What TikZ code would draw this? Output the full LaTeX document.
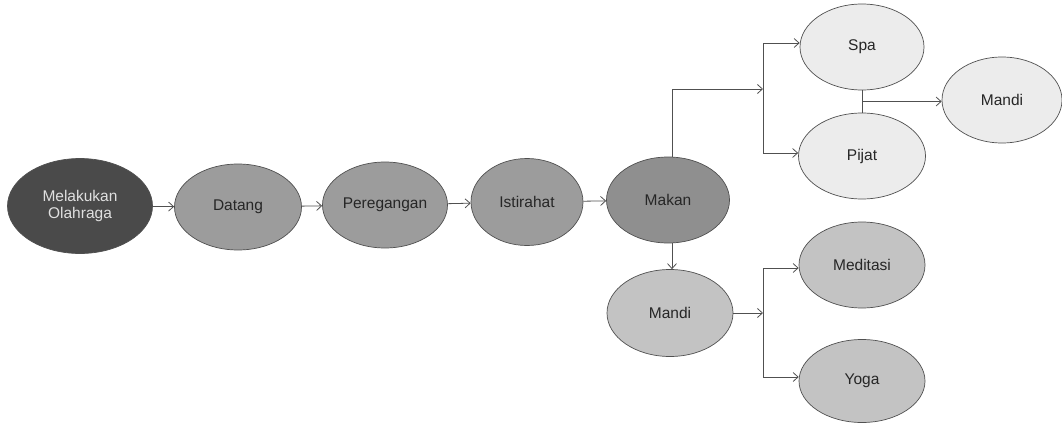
\documentclass[tikz,border=0pt]{standalone}
\usepackage{fontspec}
\setmainfont{Liberation Sans}
\usetikzlibrary{shapes.geometric,arrows.meta,calc}
\definecolor{stepdark}{HTML}{4A4A4A}
\definecolor{stepmid}{HTML}{9C9C9C}
\definecolor{stepmidd}{HTML}{8F8F8F}
\definecolor{steplight}{HTML}{C3C3C3}
\definecolor{steppale}{HTML}{ECECEC}
\definecolor{edgegray}{HTML}{505050}
\tikzset{
  oval/.style={ellipse, draw=edgegray, line width=0.7pt, inner sep=0pt,
    minimum width=124pt, minimum height=86pt, font=\fontsize{15.5}{17.5}\selectfont,
    text=black!85, align=center},
  arr/.style={draw=edgegray, line width=0.8pt, -{Straight Barb[length=5pt,width=9pt,line width=0.8pt]}},
  link/.style={draw=edgegray, line width=0.8pt},
}
\begin{document}
\begin{tikzpicture}[x=1pt,y=-1pt]
\useasboundingbox (0,0) rectangle (1062,423);
% main sequence
\node[oval, fill=stepdark, text=white!88!black, minimum width=145pt, minimum height=95pt] (olahraga) at (80,206) {Melakukan\\Olahraga};
\node[oval, fill=stepmid, minimum width=127pt] (datang) at (238,207) {Datang};
\node[oval, fill=stepmid, minimum width=125pt] (peregangan) at (385,205) {Peregangan};
\node[oval, fill=stepmid, minimum width=112pt, minimum height=87pt] (istirahat) at (527,202) {Istirahat};
\node[oval, fill=stepmidd, minimum width=123pt] (makan) at (668,200) {Makan};
% upper branch
\node[oval, fill=steppale] (spa) at (862,47) {Spa};
\node[oval, fill=steppale, minimum width=127pt] (pijat) at (862,156) {Pijat};
\node[oval, fill=steppale, minimum width=120pt] (mandiA) at (1002,100) {Mandi};
% lower branch
\node[oval, fill=steplight, minimum width=126pt, minimum height=87pt] (mandiB) at (670,313) {Mandi};
\node[oval, fill=steplight, minimum width=126pt] (meditasi) at (862,265) {Meditasi};
\node[oval, fill=steplight, minimum width=126pt, minimum height=83pt] (yoga) at (862,381) {Yoga};
% junction points
\coordinate (upj) at (763,89);
\coordinate (upt) at (763,43);
\coordinate (upb) at (763,153);
\coordinate (loj) at (763,313);
\coordinate (lot) at (763,268);
\coordinate (lob) at (763,377);
% connectors along the sequence
\draw[arr] (olahraga) -- (datang);
\draw[arr] (datang) -- (peregangan);
\draw[arr] (peregangan) -- (istirahat);
\draw[arr] (istirahat) -- (makan);
% from Makan up to Spa / Pijat
\draw[arr] ([xshift=4pt]makan.north) |- (upj);
\draw[link] (upt) -- (upb);
\draw[arr] (upt) -- (upt -| spa.west);
\draw[arr] (upb) -- (upb -| pijat.west);
% Spa and Pijat joined, then on to Mandi
\coordinate (sp) at ($(spa.south)!0.5!(pijat.north)$);
\draw[link] (spa.south) -- (pijat.north);
\draw[arr] (sp) -- (sp -| mandiA.west);
% from Makan down to Mandi, then Meditasi / Yoga
\draw[arr] ([xshift=4pt]makan.south) -- ([xshift=2pt]mandiB.north);
\draw[arr] (mandiB.east) -- (loj);
\draw[link] (lot) -- (lob);
\draw[arr] (lot) -- (lot -| meditasi.west);
\draw[arr] (lob) -- (lob -| yoga.west);
\end{tikzpicture}
\end{document}
